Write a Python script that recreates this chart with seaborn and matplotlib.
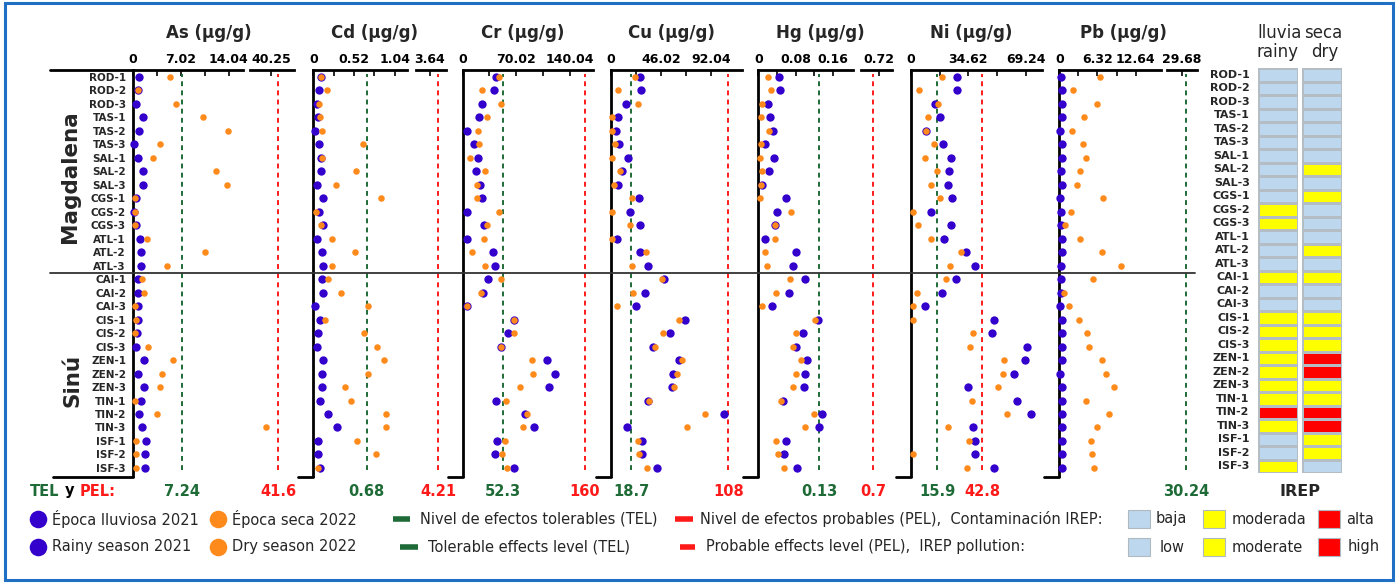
import numpy as np
import pandas as pd
import seaborn as sns
import matplotlib.pyplot as plt
from matplotlib.colors import ListedColormap
from matplotlib.patches import Rectangle
from matplotlib.transforms import blended_transform_factory

# sitios de muestreo (Magdalena arriba, Sinú abajo)
sites = ['ROD-1', 'ROD-2', 'ROD-3', 'TAS-1', 'TAS-2', 'TAS-3', 'SAL-1', 'SAL-2', 'SAL-3',
         'CGS-1', 'CGS-2', 'CGS-3', 'ATL-1', 'ATL-2', 'ATL-3',
         'CAI-1', 'CAI-2', 'CAI-3', 'CIS-1', 'CIS-2', 'CIS-3', 'ZEN-1', 'ZEN-2', 'ZEN-3',
         'TIN-1', 'TIN-2', 'TIN-3', 'ISF-1', 'ISF-2', 'ISF-3']

# concentraciones (ug/g): epoca lluviosa 2021 / epoca seca 2022
as_rainy = [0.88, 0.8, 0.4, 1.5, 0.9, 0.2, 0.8, 1.4, 1.4, 0.4, 0.2, 0.4, 1.0, 1.1, 1.2,
            0.7, 0.8, 0.7, 0.7, 0.55, 0.4, 1.6, 0.8, 1.6, 1.1, 0.9, 1.3, 1.85, 1.7, 1.7]
as_dry = [5.4, 0.8, 6.3, 10.3, 13.9, 4.0, 2.9, 12.2, 13.7, 0.35, 0.3, 0.35, 2.1, 10.6, 5.0,
          1.3, 1.6, 0.3, 0.4, 0.3, 2.2, 5.9, 4.2, 4.0, 0.35, 3.5, 39.2, 0.45, 0.45, 0.4]
cd_rainy = [0.094, 0.077, 0.043, 0.064, 0.026, 0.072, 0.094, 0.10, 0.05, 0.123, 0.077, 0.123, 0.043, 0.11, 0.128,
            0.106, 0.12, 0.02, 0.085, 0.064, 0.047, 0.128, 0.106, 0.11, 0.085, 0.183, 0.306, 0.064, 0.055, 0.085]
cd_dry = [0.094, 0.17, 0.068, 0.089, 0.106, 0.638, 0.11, 0.54, 0.29, 0.87, 0.034, 0.098, 0.243, 0.53, 0.238,
          0.183, 0.36, 0.70, 0.149, 0.65, 0.81, 0.906, 0.70, 0.40, 0.477, 0.93, 0.93, 0.553, 0.80, 0.055]
cr_rainy = [43.7, 41.5, 25.8, 21.8, 5.2, 15.3, 19.7, 17.5, 22.7, 25.3, 5.2, 27.9, 5.2, 40.2, 42.4,
            33.2, 26.2, 5.2, 67.2, 59.8, 49.8, 110.9, 121.4, 112.7, 43.2, 81.7, 93.4, 45.4, 42.4, 67.2]
cr_dry = [48.0, 25.8, 50.2, 31.9, 19.7, 21.8, 9.2, 29.7, 18.3, 18.3, 48.0, 31.4, 27.9, 11.8, 28.8,
          50.2, 24.0, 5.2, 67.2, 67.7, 49.8, 90.8, 92.6, 75.5, 57.2, 84.7, 79.0, 55.0, 51.1, 58.1]
cu_rainy = [26.6, 27.9, 14.4, 7.0, 4.9, 7.7, 15.6, 10.1, 6.7, 26.3, 18.1, 27.0, 5.5, 27.3, 34.6,
            49.3, 31.9, 23.0, 68.0, 54.5, 39.2, 62.8, 57.3, 56.7, 34.3, 104.4, 15.0, 28.8, 28.8, 42.3]
cu_dry = [22.1, 7.0, 25.4, 1.5, 1.5, 4.0, 1.5, 8.3, 3.4, 19.6, 1.5, 17.5, 1.5, 32.2, 19.6,
          46.9, 20.2, 6.1, 63.1, 48.1, 40.4, 65.8, 60.9, 58.2, 35.5, 86.7, 69.8, 25.1, 26.3, 33.1]
hg_rainy = [0.044, 0.046, 0.020, 0.025, 0.031, 0.015, 0.034, 0.023, 0.009, 0.059, 0.040, 0.036, 0.014, 0.081, 0.075,
            0.101, 0.066, 0.030, 0.129, 0.096, 0.081, 0.104, 0.101, 0.099, 0.054, 0.137, 0.131, 0.059, 0.056, 0.084]
hg_dry = [0.021, 0.027, 0.007, 0.005, 0.022, 0.006, 0.004, 0.009, 0.005, 0.004, 0.070, 0.036, 0.036, 0.015, 0.019,
          0.069, 0.039, 0.009, 0.121, 0.081, 0.074, 0.091, 0.081, 0.074, 0.048, 0.119, 0.100, 0.037, 0.043, 0.056]
ni_rainy = [27.6, 27.8, 14.4, 17.4, 9.0, 19.6, 24.2, 22.8, 22.4, 24.6, 12.2, 24.0, 19.8, 33.2, 38.4,
            27.0, 18.8, 8.4, 50.0, 49.0, 70.0, 68.6, 62.2, 34.2, 63.6, 72.4, 37.4, 38.8, 38.4, 49.8]
ni_dry = [19.0, 5.0, 16.2, 10.2, 9.2, 14.2, 8.8, 15.8, 12.4, 17.6, 1.6, 4.4, 12.4, 30.0, 23.4,
          21.4, 3.8, 1.6, 1.6, 37.6, 35.8, 56.2, 55.4, 52.4, 37.0, 57.8, 22.6, 35.0, 1.6, 34.0]
pb_rainy = [0.33, 0.5, 0.44, 0.44, 0.17, 0.44, 0.44, 0.33, 0.39, 0.17, 0.28, 0.22, 0.5, 0.39, 0.33,
            0.33, 0.33, 0.1, 0.44, 0.5, 0.44, 0.39, 0.1, 0.39, 0.39, 0.39, 0.39, 0.39, 0.39, 0.5]
pb_dry = [6.7, 2.3, 6.2, 4.1, 2.15, 3.9, 4.4, 3.5, 2.9, 7.2, 1.9, 0.9, 3.5, 7.1, 10.2,
          5.6, 0.8, 1.6, 3.2, 4.6, 4.9, 7.1, 7.7, 9.0, 4.5, 8.2, 6.3, 5.2, 5.5, 5.7]

metals = ['As', 'Cd', 'Cr', 'Cu', 'Hg', 'Ni', 'Pb']
tel = [7.24, 0.68, 52.3, 18.7, 0.13, 15.9, 30.24]
pel = [41.6, 4.21, 160, 108, 0.7, 42.8, None]
tick_step = [7.02, 0.52, 70.02, 46.02, 0.08, 34.62, 6.32]
break_tick = [40.25, 3.64, None, None, 0.72, None, 29.68]

# IREP por temporada
irep_rainy = ['low', 'low', 'low', 'low', 'low', 'low', 'low', 'low', 'low', 'low',
              'moderate', 'moderate', 'low', 'low', 'low', 'moderate', 'low', 'low',
              'moderate', 'moderate', 'moderate', 'moderate', 'moderate', 'moderate',
              'moderate', 'high', 'moderate', 'low', 'low', 'moderate']
irep_dry = ['low', 'low', 'low', 'low', 'low', 'low', 'low', 'moderate', 'low', 'moderate',
            'low', 'low', 'low', 'moderate', 'low', 'moderate', 'low', 'low',
            'moderate', 'moderate', 'moderate', 'high', 'high', 'moderate',
            'moderate', 'high', 'high', 'moderate', 'moderate', 'low']

sns.set_style("white")
plt.rcParams['font.family'] = ['DejaVu Sans']

BLUE = '#3300CC'
ORANGE = '#FF8A1C'
GREEN = '#1E6B37'
RED = '#FF1A1A'

W, H = 1397, 583
fig = plt.figure(figsize=(W / 100, H / 100), dpi=100, facecolor='white')


def px_ax(x0, x1, y0, y1):
    a = fig.add_axes([x0 / W, 1 - y1 / H, (x1 - x0) / W, (y1 - y0) / H])
    a.patch.set_alpha(0)
    return a


TOP, BOT = 70, 476
YLIM = (29.6, -0.52)
# panel layout in pixels: left spine, end of main axis, main xmax, broken segment, broken xlim
layout = {
    'As': (133, 243, 16.1, (250, 294), (36.2, 44.7)),
    'Cd': (313.3, 407, 1.197, (416, 446), (2.64, 4.78)),
    'Cr': (462.7, 593, 170.7, None, None),
    'Cu': (610.7, 742, 120.6, None, None),
    'Hg': (758.3, 853, 0.203, (861, 892), (0.66, 0.763)),
    'Ni': (910.7, 1041.7, 78.6, None, None),
    'Pb': (1059.3, 1160.7, 16.8, (1167, 1197), (27.73, 31.63)),
}
values = {'As': (as_rainy, as_dry), 'Cd': (cd_rainy, cd_dry), 'Cr': (cr_rainy, cr_dry),
          'Cu': (cu_rainy, cu_dry), 'Hg': (hg_rainy, hg_dry), 'Ni': (ni_rainy, ni_dry),
          'Pb': (pb_rainy, pb_dry)}


def tick_txt(v):
    return '0' if v == 0 else f'{v:.2f}'


def dots(ax, df, lo, hi):
    for col, color, size in (('rainy', BLUE, 36), ('dry', ORANGE, 22)):
        sub = df[(df[col] >= lo) & (df[col] <= hi)]
        sns.scatterplot(data=sub, x=col, y='row', color=color, s=size, linewidth=0,
                        ax=ax, clip_on=False, zorder=3, legend=False)
    ax.set(xlabel='', ylabel='')


def refline(ax, v, color):
    ax.axvline(v, ymin=0.015, ymax=0.99, color=color, lw=1.4, ls=(0, (2.5, 2.2)), zorder=1)


def style_top(ax):
    for s in ['right', 'bottom']:
        ax.spines[s].set_visible(False)
    ax.spines['top'].set_linewidth(2)
    ax.spines['left'].set_linewidth(2)
    ax.spines['top'].set_color('black')
    ax.spines['left'].set_color('black')
    ax.xaxis.tick_top()
    ax.tick_params(axis='x', which='both', direction='in', length=4, width=1.2, pad=3,
                   labelsize=9, colors='black')
    for lbl in ax.get_xticklabels():
        lbl.set_fontweight('bold')


lab_y = 1 - 491 / H
for i, m in enumerate(metals):
    x0, x1, xmax, brk, blim = layout[m]
    r, d = values[m]
    df = pd.DataFrame({'row': np.arange(len(sites)), 'rainy': r, 'dry': d})

    ax = px_ax(x0, x1, TOP, BOT)
    dots(ax, df, 0, xmax)
    ax.set_xlim(0, xmax)
    ax.set_ylim(*YLIM)
    st = tick_step[i]
    ax.set_xticks([0, st, 2 * st])
    ax.set_xticklabels([tick_txt(v) for v in (0, st, 2 * st)])
    ax.set_xticks([st / 2, 1.5 * st], minor=True)
    style_top(ax)
    ax.set_yticks(np.arange(len(sites)))
    ax.set_yticklabels(sites if i == 0 else [])
    ax.tick_params(axis='y', direction='out', length=2, width=1, pad=3, labelsize=7.5)
    if i == 0:
        for lbl in ax.get_yticklabels():
            lbl.set_fontweight('bold')

    bx = None
    if brk is not None:
        bx = px_ax(brk[0], brk[1], TOP, BOT)
        dots(bx, df, blim[0], blim[1])
        bx.set_xlim(*blim)
        bx.set_ylim(*YLIM)
        bx.set_xticks([break_tick[i]])
        bx.set_xticklabels([tick_txt(break_tick[i])])
        style_top(bx)
        bx.spines['left'].set_visible(False)
        bx.set_yticks([])

    for v, color in ((tel[i], GREEN), (pel[i], RED)):
        if v is None:
            continue
        tgt = ax if v <= xmax else bx
        refline(tgt, v, color)
        tgt.text(v, lab_y, str(v), transform=blended_transform_factory(tgt.transData, fig.transFigure),
                 ha='center', va='center', color=color, fontsize=10.5, fontweight='bold')

    right = brk[1] if brk is not None else x1
    fig.text(((x0 + right) / 2 - 5) / W, 1 - 33 / H, f'{m} (µg/g)', ha='center', va='center',
             fontsize=12, fontweight='bold')

# IREP
code = {'low': 0, 'moderate': 1, 'high': 2}
irep_df = pd.DataFrame({'rainy': [code[v] for v in irep_rainy],
                        'dry': [code[v] for v in irep_dry]}, index=sites)
cmap = ListedColormap(['#BDD7EE', '#FFFF00', '#FF0000'])
for col, (hx0, hx1) in (('rainy', (1258, 1298)), ('dry', (1302, 1342))):
    hx = px_ax(hx0, hx1, 68, 473)
    sns.heatmap(irep_df[[col]], ax=hx, cmap=cmap, vmin=-0.5, vmax=2.5, cbar=False,
                linewidths=0.8, linecolor='#B4BCC4', xticklabels=False,
                yticklabels=(col == 'rainy'))
    hx.set(xlabel='', ylabel='')
    hx.tick_params(axis='y', length=0, pad=6, labelsize=8, rotation=0)
    for lbl in hx.get_yticklabels():
        lbl.set_fontweight('bold')

# overlay in pixel coordinates for decorations and legend
lax = fig.add_axes([0, 0, 1, 1])
lax.patch.set_alpha(0)
lax.set_xlim(0, W)
lax.set_ylim(H, 0)
lax.axis('off')

lax.add_patch(Rectangle((5, 3), 1388, 577, fill=False, edgecolor='#1F6FC4', lw=2.2))
lax.plot([50, 133], [70, 70], color='black', lw=2)
lax.plot([50, 1195], [273, 273], color='#333333', lw=1.3)
lax.plot([53, 133], [477, 477], color='black', lw=2)
for m in metals[1:]:
    sx = layout[m][0]
    lax.plot([sx - 15, sx], [477, 477], color='black', lw=2)

lax.text(70, 177, 'Magdalena', rotation=90, ha='center', va='center', fontsize=15.5, fontweight='bold')
lax.text(72, 380, 'Sinú', rotation=90, ha='center', va='center', fontsize=15.5, fontweight='bold')

lax.text(1280, 33, 'lluvia', ha='center', va='center', fontsize=12)
lax.text(1323, 33, 'seca', ha='center', va='center', fontsize=12)
lax.text(1277, 52, 'rainy', ha='center', va='center', fontsize=12)
lax.text(1325, 52, 'dry', ha='center', va='center', fontsize=12)
lax.text(1300, 492, 'IREP', ha='center', va='center', fontsize=11.5, fontweight='bold')

lax.text(30, 491, 'TEL', color=GREEN, ha='left', va='center', fontsize=10.5, fontweight='bold')
lax.text(65, 491, 'y', color='black', ha='left', va='center', fontsize=10.5, fontweight='bold')
lax.text(80, 491, 'PEL:', color=RED, ha='left', va='center', fontsize=10.5, fontweight='bold')

# legend
fs = 10.5
for y, texts, dash, sq in (
        (519, ('Época lluviosa 2021', 'Época seca 2022', 'Nivel de efectos tolerables (TEL)',
               'Nivel de efectos probables (PEL),  Contaminación IREP:', 'baja', 'moderada', 'alta'),
         ((393, 410, 420), (675, 693, 700)), (1156, 1232, 1346)),
        (547, ('Rainy season 2021', 'Dry season 2022', 'Tolerable effects level (TEL)',
               'Probable effects level (PEL),  IREP pollution:', 'low', 'moderate', 'high'),
         ((400, 418, 428), (680, 695, 706)), (1160, 1232, 1348))):
    lax.scatter([38], [y], s=160, color=BLUE, linewidth=0)
    lax.text(52, y, texts[0], ha='left', va='center', fontsize=fs)
    lax.scatter([218], [y], s=160, color=ORANGE, linewidth=0)
    lax.text(232, y, texts[1], ha='left', va='center', fontsize=fs)
    lax.plot([dash[0][0], dash[0][1]], [y, y], color=GREEN, lw=4, solid_capstyle='butt')
    lax.text(dash[0][2], y, texts[2], ha='left', va='center', fontsize=fs)
    lax.plot([dash[1][0], dash[1][1]], [y, y], color=RED, lw=4, solid_capstyle='butt')
    lax.text(dash[1][2], y, texts[3], ha='left', va='center', fontsize=fs)
    for k, (sx, c) in enumerate(zip((1128, 1203, 1318), ('#BDD7EE', '#FFFF00', '#FF0000'))):
        lax.add_patch(Rectangle((sx, y - 9), 22, 18, facecolor=c, edgecolor='#B0B8C0', lw=0.8))
        lax.text(sq[k], y, texts[4 + k], ha='left', va='center', fontsize=fs)

fig.savefig('out.png', dpi=100, facecolor='white')
